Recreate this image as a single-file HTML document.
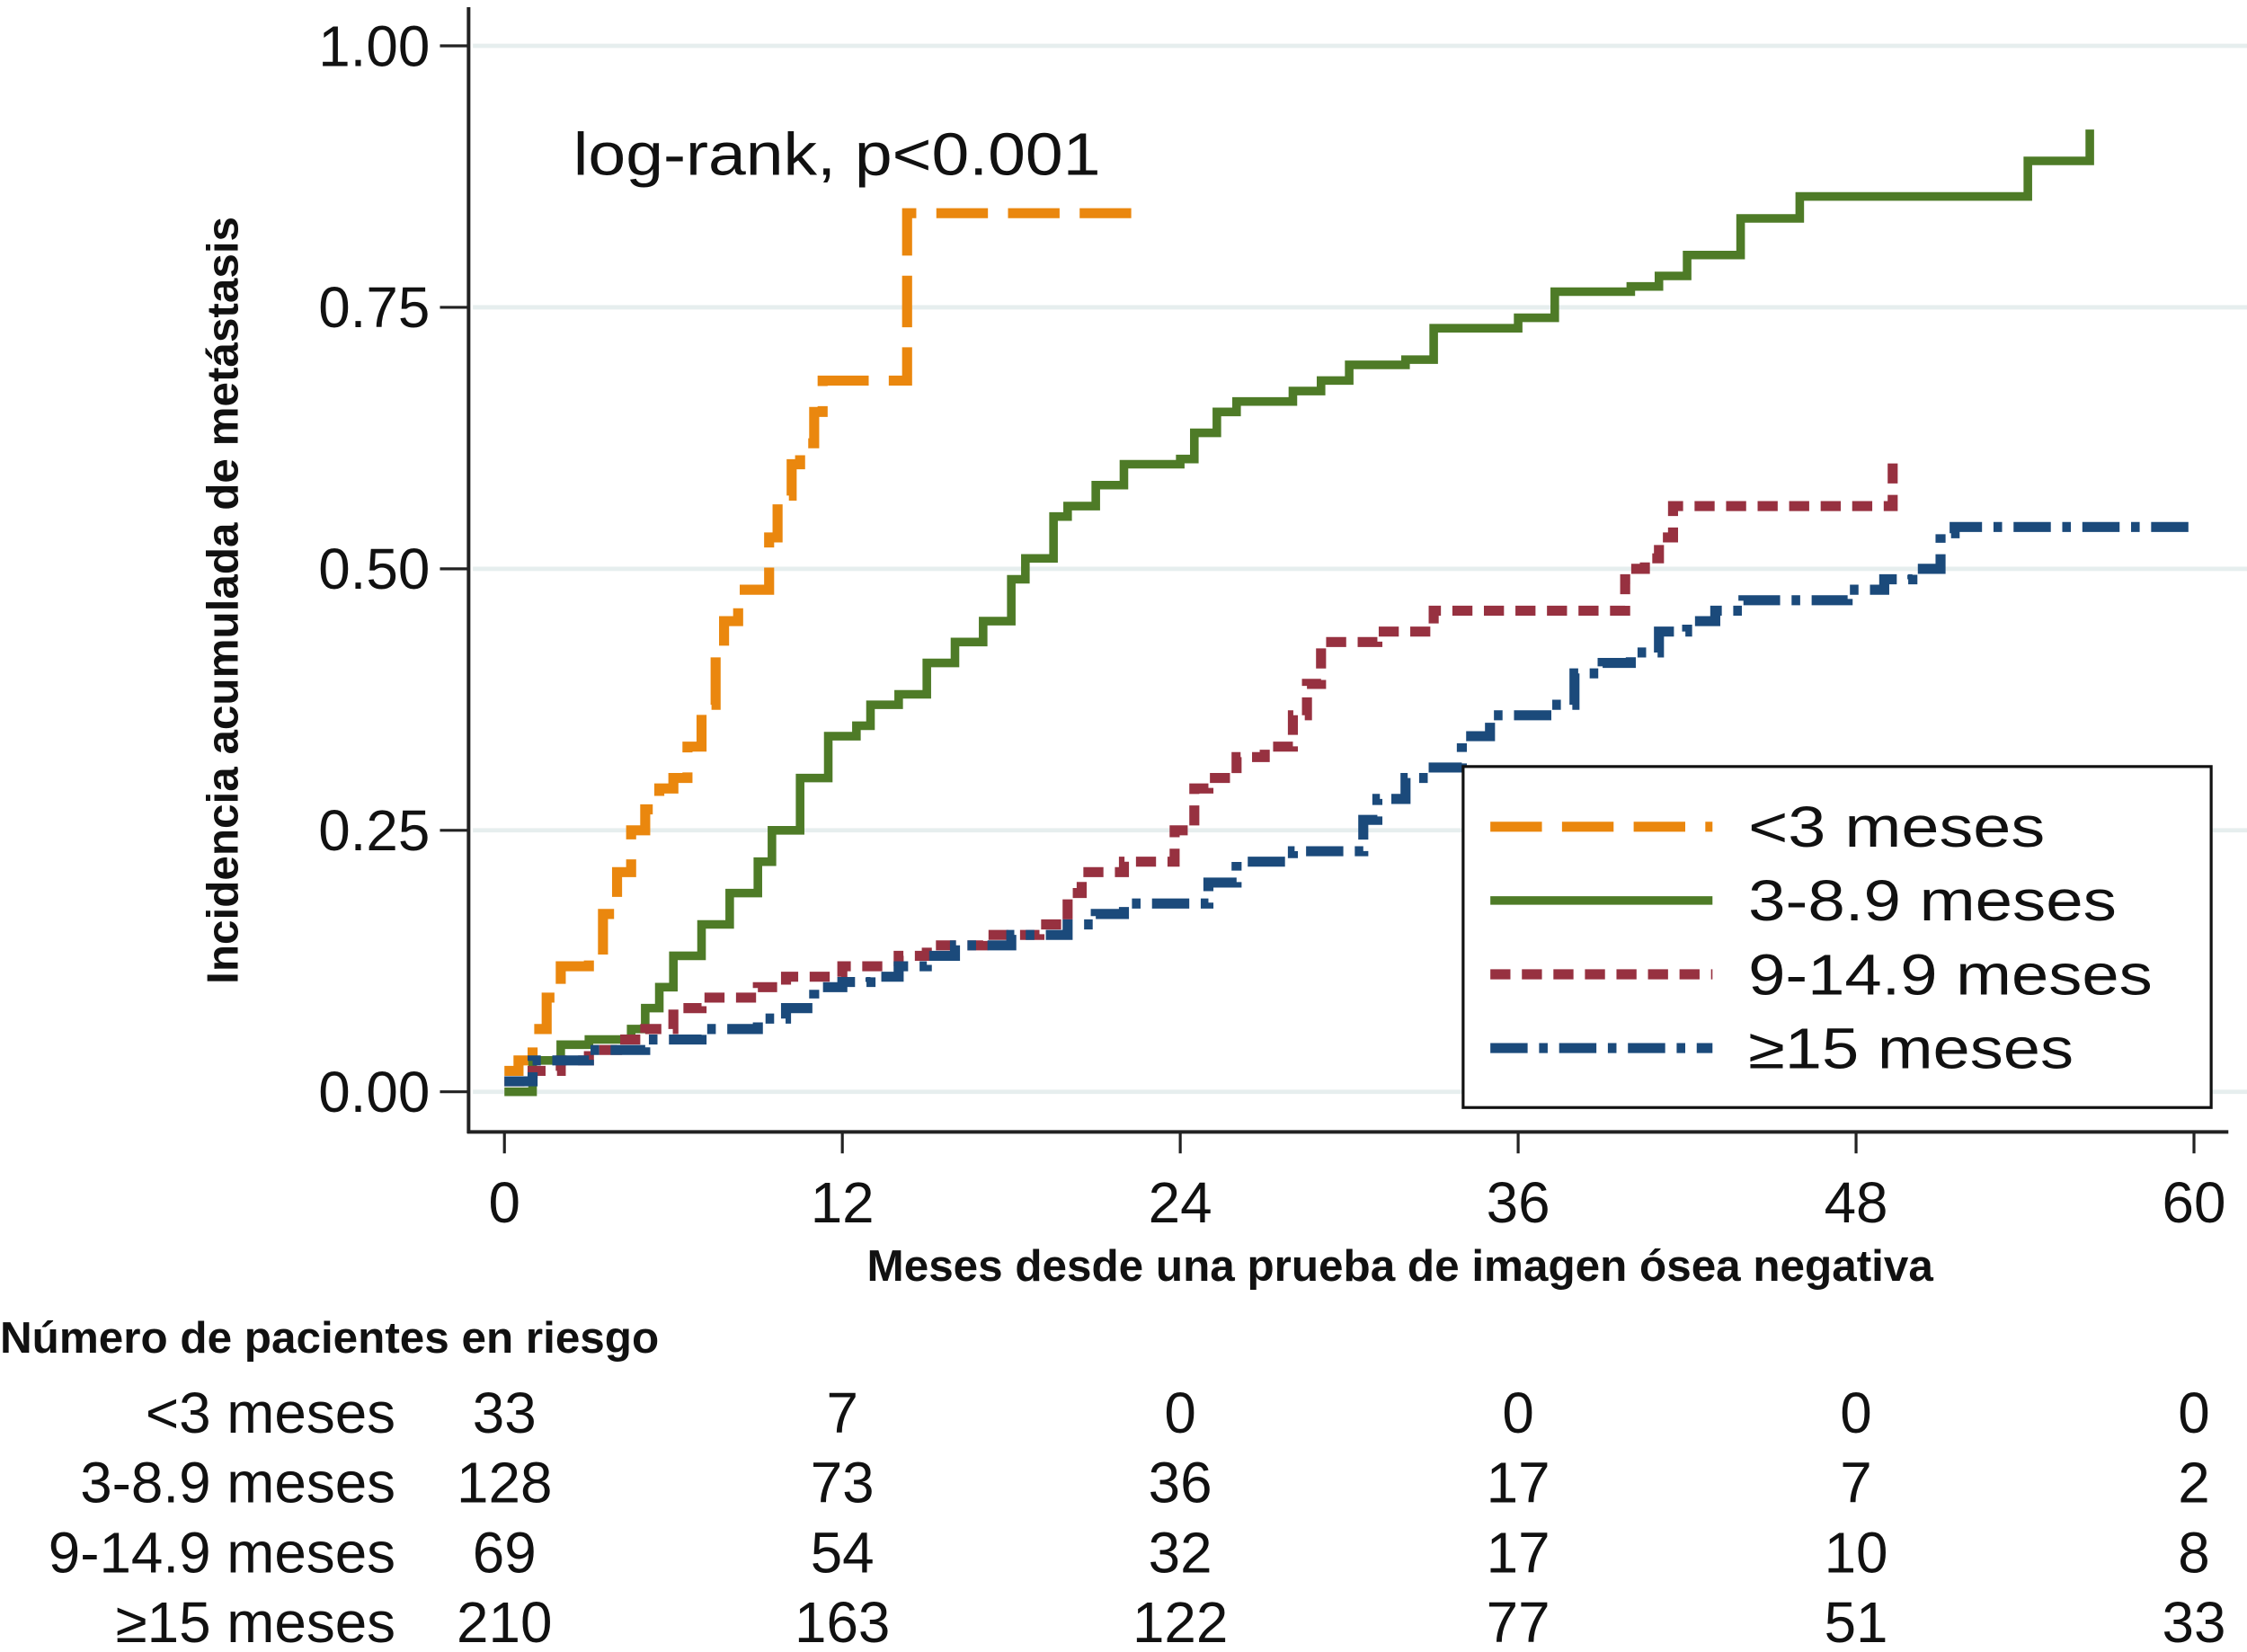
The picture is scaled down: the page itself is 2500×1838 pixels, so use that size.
<!DOCTYPE html>
<html><head><meta charset="utf-8"><style>
html,body{margin:0;padding:0;background:#fff;}
svg{display:block;}
text{font-family:"Liberation Sans",Arial,sans-serif;fill:#111;}
</style></head><body>
<svg id="chart" width="2500" height="1838" viewBox="0 0 1568 1153" preserveAspectRatio="none" xmlns="http://www.w3.org/2000/svg">
<g id="grid"></g>
<g id="series"></g>
<g id="axes"></g>
<text x="400" y="122" font-size="42" textLength="368" lengthAdjust="spacingAndGlyphs">log-rank, p&lt;0.001</text>
<text x="977" y="894" font-size="31" font-weight="bold" text-anchor="middle">Meses desde una prueba de imagen ósea negativa</text>
<text transform="translate(166,419) rotate(-90)" font-size="31" font-weight="bold" text-anchor="middle">Incidencia acumulada de metástasis</text>
<g id="legend">
<rect x="1021" y="535" width="522" height="238" fill="#fff" stroke="#111" stroke-width="2"/>
</g>
<text x="0" y="944" font-size="31" font-weight="bold">Número de pacientes en riesgo</text>
<g id="risk"></g>
</svg>
<script>
const xTicks=[0,12,24,36,48,60];
const yTicks=[0,0.25,0.5,0.75,1];
const yTickLabels=["0.00","0.25","0.50","0.75","1.00"];
const seriesNames=["<3 meses","3-8.9 meses","9-14.9 meses","≥15 meses"];
const tOrange=[0,0.5,1,1.5,2,3,3.5,4,4.5,5,5.5,6,6.5,7,7.5,7.8,8.3,9.4,9.7,10.2,10.5,11,11.3,14.3,22.6];
const vOrange=[0.02,0.03,0.06,0.09,0.12,0.13,0.17,0.21,0.25,0.27,0.29,0.30,0.33,0.37,0.42,0.45,0.48,0.53,0.57,0.60,0.62,0.65,0.68,0.84,0.84];
const tGreen=[0,1,2,3,4.5,5,5.5,6,7,8,9,9.5,10.5,11.5,12.5,13,14,15,16,17,18,18.5,19.5,20,21,22,24,24.5,25.3,26,28,29,30,32,33,36,37.3,40,41,42,43.9,46,54.1,56.3,56.3];
const vGreen=[0,0.03,0.045,0.05,0.06,0.08,0.10,0.13,0.16,0.19,0.22,0.25,0.30,0.34,0.35,0.37,0.38,0.41,0.43,0.45,0.49,0.51,0.55,0.56,0.58,0.60,0.605,0.63,0.65,0.66,0.67,0.68,0.695,0.70,0.73,0.74,0.765,0.77,0.78,0.80,0.835,0.856,0.89,0.92,0.92];
const tRed=[0,1,2,3,4,5,6,7,9,10,12,14,15,17,19,20,20.5,22,23.8,24.5,25,26,27,28,28.5,29,31,33,39.8,40,40.5,41,41.5,49.3,49.3];
const vRed=[0.01,0.02,0.03,0.04,0.05,0.06,0.08,0.09,0.10,0.11,0.12,0.13,0.14,0.15,0.16,0.19,0.21,0.22,0.25,0.29,0.30,0.32,0.33,0.36,0.39,0.43,0.44,0.46,0.49,0.50,0.51,0.53,0.56,0.605,0.605];
const tBlue=[0,1,3,5,7,9,10,11,12,13,14,15,16,18,20,21,22,24,25,26,28,30.5,31,32,33,34,35,37,38,39,40,41,42,43,44,47.7,49,50,51,51.5,60];
const vBlue=[0.01,0.03,0.04,0.05,0.06,0.07,0.08,0.10,0.105,0.11,0.12,0.13,0.14,0.15,0.16,0.17,0.18,0.18,0.20,0.22,0.23,0.26,0.28,0.30,0.31,0.34,0.36,0.37,0.40,0.41,0.42,0.44,0.45,0.46,0.47,0.48,0.49,0.50,0.534,0.54,0.54];
const riskLabels=["<3 meses","3-8.9 meses","9-14.9 meses","≥15 meses"];
const riskOrange=[33,7,0,0,0,0];
const riskGreen=[128,73,36,17,7,2];
const riskRed=[69,54,32,17,10,8];
const riskBlue=[210,163,122,77,51,33];

const NS="http://www.w3.org/2000/svg";
const X=t=>352+t*(1531-352)/60;
const Y=v=>762-v*730;
function mk(tag,attrs,parent,txt){const e=document.createElementNS(NS,tag);for(const k in attrs)e.setAttribute(k,attrs[k]);if(txt!==undefined)e.textContent=txt;parent.appendChild(e);return e;}
const grid=document.getElementById('grid'),axes=document.getElementById('axes'),ser=document.getElementById('series'),leg=document.getElementById('legend'),risk=document.getElementById('risk');
yTicks.forEach((v,i)=>{
 const g=mk('line',{x1:330,x2:1568,y1:Y(v),y2:Y(v),stroke:'#e6eeee','stroke-width':3},grid);
 
 
 const tk=mk('line',{x1:307,x2:327,y1:Y(v),y2:Y(v),stroke:'#222','stroke-width':2},axes);
 
 
 const tl=mk('text',{x:300,y:Y(v)+14,'font-size':40,'text-anchor':'end'},axes,yTickLabels[i]);
 
 
});
xTicks.forEach(t=>{
 const tk=mk('line',{x1:X(t),x2:X(t),y1:790,y2:805,stroke:'#222','stroke-width':2},axes);
 
 
 const tl=mk('text',{x:X(t),y:853,'font-size':40,'text-anchor':'middle'},axes,String(t));
 
 
});
const ya=mk('line',{x1:327,x2:327,y1:5,y2:791,stroke:'#222','stroke-width':2.5},axes);


const xa=mk('line',{x1:326,x2:1555,y1:790,y2:790,stroke:'#222','stroke-width':2.5},axes);



const styles=[
 {c:'#ea870e',w:7,d:'36 14'},
 {c:'#4e7b27',w:6,d:''},
 {c:'#973140',w:7,d:'14 8'},
 {c:'#1b4a7b',w:7,d:'26 8 6 8'}];
const legendWidths=[207,257,282,227];
const data=[[tOrange,vOrange],[tGreen,vGreen],[tRed,vRed],[tBlue,vBlue]];
const names=['curve-lt3','curve-3-8','curve-9-14','curve-ge15'];
data.forEach(([ts,vs],k)=>{
 let d='M'+X(ts[0])+' '+Y(vs[0]);
 for(let i=1;i<ts.length;i++){d+=' H'+X(ts[i])+' V'+Y(vs[i]);}
 const p=mk('path',{d:d,fill:'none',stroke:styles[k].c,'stroke-width':styles[k].w,'stroke-dasharray':styles[k].d},ser);
 
 
 const ly=577+k*51.5;
 const ll=mk('line',{x1:1040,x2:1195,y1:ly,y2:ly,stroke:styles[k].c,'stroke-width':styles[k].w,'stroke-dasharray':styles[k].d},leg);
 
 
 const lt=mk('text',{x:1220,y:ly+14,'font-size':40,textLength:legendWidths[k],lengthAdjust:'spacingAndGlyphs'},leg,seriesNames[k]);
 
 
});
const riskRows=[riskOrange,riskGreen,riskRed,riskBlue];
riskRows.forEach((row,r)=>{
 const by=1000+r*48.7;
 const lb=mk('text',{x:276,y:by,'font-size':40,'text-anchor':'end'},risk,riskLabels[r]);
 
 
 row.forEach((n,i)=>{
  const c=mk('text',{x:X(xTicks[i]),y:by,'font-size':40,'text-anchor':'middle'},risk,String(n));
  
  
 });
});
</script>
</body></html>
